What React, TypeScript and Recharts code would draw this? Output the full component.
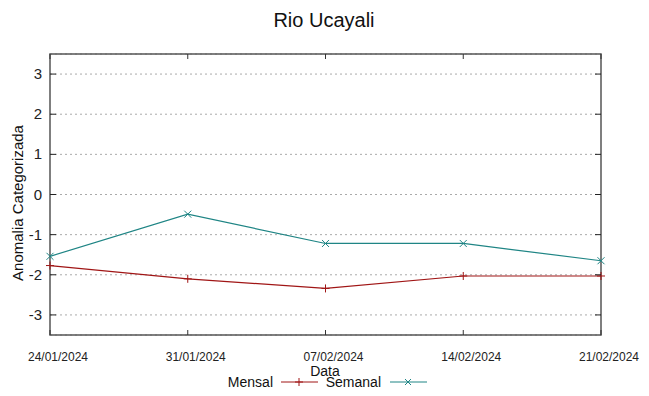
import React from "react";
import { LineChart, Line, XAxis, YAxis, CartesianGrid, ReferenceArea } from "recharts";

const dates = ["24/01/2024", "31/01/2024", "07/02/2024", "14/02/2024", "21/02/2024"];
const mensal = [-1.77, -2.1, -2.34, -2.03, -2.03];
const semanal = [-1.54, -0.49, -1.22, -1.22, -1.65];
const yTicks = [-3, -2, -1, 0, 1, 2, 3];

const data = dates.map((d, i) => ({ date: d, mensal: mensal[i], semanal: semanal[i] }));

const W = 649;
const H = 396;
const PL = 50;
const PR = 601;
const PT = 54;
const PB = 335;
const XH = 30;
const FONT = "Liberation Sans, Arial, sans-serif";
const RED = "#a01515";
const TEAL = "#1f8585";

const XTick = (props: any) => {
  const { x, payload } = props;
  return (
    <g>
      <line x1={x} x2={x} y1={PB} y2={PB - 5} stroke="#333" strokeWidth={1} />
      <line x1={x} x2={x} y1={PT} y2={PT + 5} stroke="#333" strokeWidth={1} />
      <text x={x + 8} y={361} textAnchor="middle" fontSize={12} fill="#222" fontFamily={FONT}>
        {payload.value}
      </text>
    </g>
  );
};

const YTick = (props: any) => {
  const { y, payload } = props;
  return (
    <g>
      <line x1={PL} x2={PL + 6} y1={y} y2={y} stroke="#222" strokeWidth={1} />
      <line x1={PR} x2={PR - 6} y1={y} y2={y} stroke="#222" strokeWidth={1} />
      <text x={42} y={y + 5} textAnchor="end" fontSize={15} fill="#222" fontFamily={FONT}>
        {payload.value}
      </text>
    </g>
  );
};

const PlusDot = (props: any) => {
  const { cx, cy } = props;
  if (cx == null || cy == null) return null;
  return (
    <g>
      <line x1={cx - 4} x2={cx + 4} y1={cy} y2={cy} stroke={RED} strokeWidth={1} />
      <line x1={cx} x2={cx} y1={cy - 4} y2={cy + 4} stroke={RED} strokeWidth={1} />
    </g>
  );
};

const CrossDot = (props: any) => {
  const { cx, cy } = props;
  if (cx == null || cy == null) return null;
  return (
    <g>
      <line x1={cx - 3.5} x2={cx + 3.5} y1={cy - 3.5} y2={cy + 3.5} stroke={TEAL} strokeWidth={1} />
      <line x1={cx - 3.5} x2={cx + 3.5} y1={cy + 3.5} y2={cy - 3.5} stroke={TEAL} strokeWidth={1} />
    </g>
  );
};

export default function App() {
  return (
    <div style={{ position: "absolute", left: 0, top: 0, width: W, height: H, background: "#fff" }}>
      <svg width={W} height={H} style={{ position: "absolute", left: 0, top: 0 }}>
        <text x={324} y={27} textAnchor="middle" fontSize={20} fill="#111" fontFamily={FONT}>
          Rio Ucayali
        </text>
        <text
          x={23}
          y={203}
          textAnchor="middle"
          fontSize={15}
          fill="#111"
          fontFamily={FONT}
          transform="rotate(-90 23 203)"
        >
          Anomalia Categorizada
        </text>
        <text x={325} y={376} textAnchor="middle" fontSize={14} fill="#111" fontFamily={FONT}>
          Data
        </text>
        <text x={273} y={387} textAnchor="end" fontSize={14} fill="#111" fontFamily={FONT}>
          Mensal
        </text>
        <line x1={281} x2={318} y1={382} y2={382} stroke={RED} strokeWidth={1} />
        <line x1={295} x2={303} y1={382} y2={382} stroke={RED} />
        <line x1={299} x2={299} y1={378} y2={386} stroke={RED} />
        <text x={381} y={387} textAnchor="end" fontSize={14} fill="#111" fontFamily={FONT}>
          Semanal
        </text>
        <line x1={390} x2={427} y1={382} y2={382} stroke={TEAL} strokeWidth={1} />
        <line x1={405} x2={411} y1={379} y2={385} stroke={TEAL} />
        <line x1={405} x2={411} y1={385} y2={379} stroke={TEAL} />
      </svg>
      <div style={{ position: "absolute", left: 0, top: 0 }}>
        <LineChart
          width={W}
          height={H}
          data={data}
          margin={{ top: PT, right: W - PR, bottom: H - PB - XH, left: 0 }}
        >
          <CartesianGrid
            vertical={false}
            stroke="#aaa"
            strokeDasharray="2 3"
          />
          <XAxis
            dataKey="date"
            type="category"
            axisLine={false}
            tickLine={false}
            tick={<XTick />}
            interval={0}
            height={XH}
          />
          <YAxis
            type="number"
            domain={[-3.5, 3.5]}
            ticks={yTicks}
            axisLine={false}
            tickLine={false}
            tick={<YTick />}
            width={PL}
            allowDataOverflow
          />
          <ReferenceArea
            x1={dates[0]}
            x2={dates[dates.length - 1]}
            y1={-3.5}
            y2={3.5}
            fill="none"
            stroke="#555"
            strokeWidth={1.5}
            ifOverflow="visible"
          />
          <Line
            dataKey="mensal"
            stroke={RED}
            strokeWidth={1.2}
            dot={<PlusDot />}
            activeDot={false}
            isAnimationActive={false}
          />
          <Line
            dataKey="semanal"
            stroke={TEAL}
            strokeWidth={1.2}
            dot={<CrossDot />}
            activeDot={false}
            isAnimationActive={false}
          />
        </LineChart>
      </div>
    </div>
  );
}
